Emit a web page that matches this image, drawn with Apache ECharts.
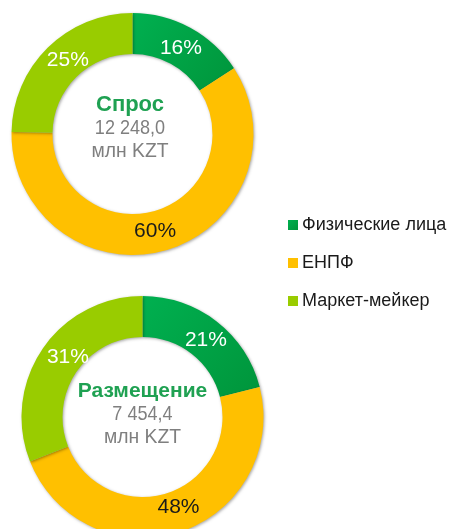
<!DOCTYPE html>
<html lang="ru">
<head>
    <meta charset="UTF-8">
    <title>Спрос и размещение</title>
    <style type="text/css">
        *{
            margin: 0px;
            padding: 0px;
        }
        #chart{
            width: 456px;
            height: 529px;
            background: #ffffff;
        }
    </style>
</head>
<body>
<div id="chart"></div>
<script src="https://cdn.jsdelivr.net/npm/echarts@6/dist/echarts.min.js"></script>
<script type="text/javascript">
  // участники
  var categories = ['Физические лица', 'ЕНПФ', 'Маркет-мейкер'];
  // доли, %
  var demandValues = [16, 60, 25];
  var placementValues = [21, 48, 31];
  // подписи в центре
  var demandTitle = ['Спрос', '12 248,0', 'млн KZT'];
  var placementTitle = ['Размещение', '7 454,4', 'млн KZT'];

  var colors = [
    new echarts.graphic.LinearGradient(0, 0, 1, 1, [
      {offset: 0, color: '#00b050'},
      {offset: 1, color: '#00953b'}
    ]),
    '#ffc000',
    '#99cc00'
  ];
  var labelColors = ['#ffffff', '#1a1a1a', '#ffffff'];
  // небольшие сдвиги подписей, как на слайде
  var demandShift = [[-1, 5], [-6, -2], [8, 0]];
  var placementShift = [[0, 5], [4, -8], [11, -2]];

  function buildData(values, shift) {
    var arr = [];
    for (var i = 0; i < values.length; i++) {
      arr.push({
        name: categories[i],
        value: values[i],
        itemStyle: {color: colors[i]},
        label: {color: labelColors[i], offset: shift[i]}
      });
    }
    return arr;
  }

  function ring(values, shift, center) {
    return {
      type: 'pie',
      center: center,
      radius: [80, 121],
      startAngle: 90,
      clockwise: true,
      silent: true,
      data: buildData(values, shift),
      itemStyle: {
        shadowBlur: 3,
        shadowColor: 'rgba(0,0,0,0.35)',
        shadowOffsetX: 1,
        shadowOffsetY: 1
      },
      label: {
        show: true,
        position: 'inside',
        formatter: '{c}%',
        fontFamily: 'Liberation Sans',
        fontSize: 21
      },
      labelLine: {show: false},
      emphasis: {disabled: true}
    };
  }

  function centerText(lines, x, y, titleSize) {
    var font = ['bold ' + titleSize + 'px "Liberation Sans"', '21px "Liberation Sans"', '21px "Liberation Sans"'];
    var fill = ['#1fa152', '#7f7f7f', '#7f7f7f'];
    var sx = [1, 0.86, 0.92];
    var items = [];
    for (var i = 0; i < lines.length; i++) {
      items.push({
        type: 'text',
        x: x,
        y: y + (i - 1) * 23,
        scaleX: sx[i],
        silent: true,
        style: {
          text: lines[i],
          font: font[i],
          fill: fill[i],
          align: 'center',
          verticalAlign: 'middle'
        }
      });
    }
    return items;
  }

  var myChart = echarts.init(document.getElementById('chart'));

  myChart.setOption({
    animation: false,
    legend: {
      orient: 'vertical',
      left: 283,
      top: 211,
      itemWidth: 10,
      itemHeight: 10,
      itemGap: 20,
      icon: 'rect',
      selectedMode: false,
      data: categories,
      textStyle: {
        fontFamily: 'Liberation Sans',
        fontSize: 18,
        color: '#1a1a1a',
        padding: [0, 0, 0, -1]
      }
    },
    graphic: centerText(demandTitle, 130, 128, 22).concat(centerText(placementTitle, 142.5, 414, 21)),
    series: [
      ring(demandValues, demandShift, [132.5, 134]),
      ring(placementValues, placementShift, [142.5, 417])
    ]
  });
</script>
</body>
</html>
